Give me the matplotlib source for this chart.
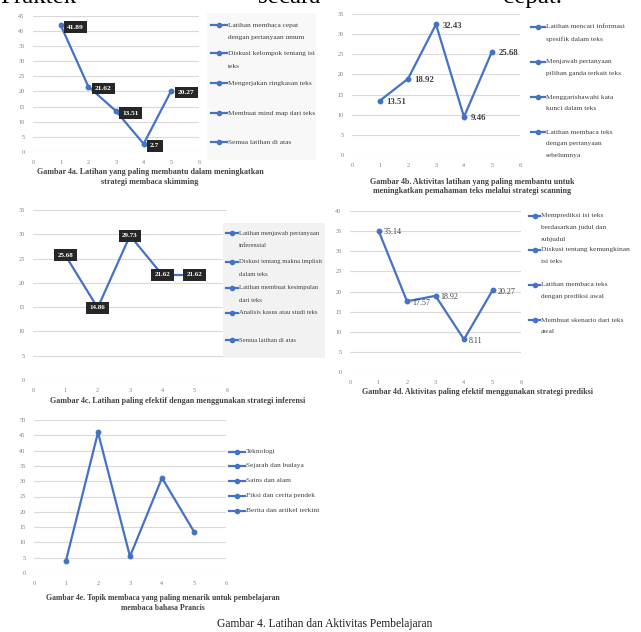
import matplotlib
matplotlib.use("Agg")
import matplotlib.pyplot as plt
from matplotlib.lines import Line2D
from matplotlib.patches import Rectangle

W, H = 641, 632
BLUE = "#4472C4"
GRID = "#D9D9D9"
TICKC = "#7F7F7F"
SERIF = ["Liberation Serif", "DejaVu Serif"]

x_pos = [1, 2, 3, 4, 5]

# ---- data ----
vals_4a = [41.89, 21.62, 13.51, 2.7, 20.27]
labels_4a = ["Latihan membaca cepat\ndengan pertanyaan umum",
             "Diskusi kelompok tentang isi\nteks",
             "Mengerjakan ringkasan teks",
             "Membuat mind map dari teks",
             "Semua latihan di atas"]
title_4a = "Gambar 4a. Latihan yang paling membantu dalam meningkatkan\nstrategi membaca skimming"

vals_4b = [13.51, 18.92, 32.43, 9.46, 25.68]
labels_4b = ["Latihan mencari informasi\nspesifik dalam teks",
             "Menjawab pertanyaan\npilihan ganda terkait teks",
             "Menggarisbawahi kata\nkunci dalam teks",
             "Latihan membaca teks\ndengan pertanyaan\nsebelumnya"]
title_4b = "Gambar 4b. Aktivitas latihan yang paling membantu untuk\nmeningkatkan pemahaman teks melalui strategi scanning"

vals_4c = [25.68, 14.86, 29.73, 21.62, 21.62]
labels_4c = ["Latihan menjawab pertanyaan\ninferensial",
             "Diskusi tentang makna implisit\ndalam teks",
             "Latihan membuat kesimpulan\ndari teks",
             "Analisis kasus atau studi teks",
             "Semua latihan di atas"]
title_4c = "Gambar 4c. Latihan paling efektif dengan menggunakan strategi inferensi"

vals_4d = [35.14, 17.57, 18.92, 8.11, 20.27]
labels_4d = ["Memprediksi isi teks\nberdasarkan judul dan\nsubjudul",
             "Diskusi tentang kemungkinan\nisi teks",
             "Latihan membaca teks\ndengan prediksi awal",
             "Membuat skenario dari teks\nawal"]
title_4d = "Gambar 4d. Aktivitas paling efektif menggunakan strategi prediksi"

vals_4e = [4.05, 45.95, 5.41, 31.08, 13.51]
labels_4e = ["Teknologi", "Sejarah dan budaya", "Sains dan alam",
             "Fiksi dan cerita pendek", "Berita dan artikel terkini"]
title_4e = "Gambar 4e. Topik membaca yang paling menarik untuk pembelajaran\nmembaca bahasa Prancis"

main_title = "Gambar 4. Latihan dan Aktivitas Pembelajaran"
top_words = ["Praktek", "secara", "cepat."]

fig = plt.figure(figsize=(W / 100, H / 100), dpi=100)
fig.patch.set_facecolor("white")


def fx(x):
    return x / W


def fy(y):
    return 1 - y / H


def make_ax(x0, x6, y0, ytop, ymax):
    ax = fig.add_axes([fx(x0), fy(y0), (x6 - x0) / W, (y0 - ytop) / H])
    ax.set_xlim(0, 6)
    ax.set_ylim(0, ymax)
    for s in ax.spines.values():
        s.set_visible(False)
    ax.set_yticks(range(0, ymax + 1, 5))
    ax.set_xticks(range(0, 7))
    ax.yaxis.grid(True, color=GRID, lw=0.8)
    ax.set_axisbelow(True)
    ax.tick_params(length=0, labelsize=4.5, colors=TICKC, pad=6)
    for t in ax.get_xticklabels() + ax.get_yticklabels():
        t.set_family(SERIF)
    ax.patch.set_alpha(0)
    return ax


def plot_line(ax, vals):
    ax.plot(x_pos, vals, color=BLUE, lw=1.6, marker="o", ms=3.2, clip_on=False,
            zorder=3)


def legend(entries, ys, mx0, mx1, dy, fs, box=None):
    if box is not None:
        bx0, by0, bx1, by1, c = box
        fig.patches.append(Rectangle((fx(bx0), fy(by1)), (bx1 - bx0) / W, (by1 - by0) / H,
                                     transform=fig.transFigure, fc=c, ec="none", zorder=0))
    for lab, y in zip(entries, ys):
        fig.add_artist(Line2D([fx(mx0), fx(mx1)], [fy(y), fy(y)], transform=fig.transFigure,
                              color=BLUE, lw=1.6))
        fig.add_artist(Line2D([fx((mx0 + mx1) / 2)], [fy(y)], transform=fig.transFigure,
                              color=BLUE, marker="o", ms=3))
        for i, line in enumerate(lab.split("\n")):
            fig.text(fx(mx1 + 1), fy(y + i * dy), line, fontsize=fs, family=SERIF,
                     va="center", ha="left", color="#404040")


def caption(text, x, y, fs=5.8, ls=1.25):
    fig.text(fx(x), fy(y), text, ha="center", va="top", fontsize=fs, family=SERIF,
             fontweight="bold", color="#404040", linespacing=ls)


PX = 0.72  # px -> pt

# ---- 4a ----
ax = make_ax(33, 199, 152, 15.7, 45)
plot_line(ax, vals_4a)
for x, v in zip(x_pos, vals_4a):
    ax.annotate(f"{v:g}", (x, v), xytext=(6.5 * PX, -2 * PX), textcoords="offset points",
                ha="left", va="center", fontsize=5.3, fontweight="bold", family=SERIF,
                color="white", bbox=dict(boxstyle="square,pad=0.45", fc="#262626", ec="none"),
                zorder=4)
legend(labels_4a, [25, 53, 83, 113, 142], 211, 227, 13, 5.3,
       box=(207, 13, 316, 160, "#F8F8F8"))
caption(title_4a, 150, 168)

# ---- 4b ----
ax = make_ax(352, 520, 155, 14, 35)
plot_line(ax, vals_4b)
for x, v in zip(x_pos, vals_4b):
    ax.annotate(f"{v:g}", (x, v), xytext=(6.5 * PX, -1.5 * PX), textcoords="offset points",
                ha="left", va="center", fontsize=6.3, fontweight="bold", family=SERIF,
                color="#404040", zorder=4)
legend(labels_4b, [27, 62, 97, 132], 531, 545, 12, 5.3)
caption(title_4b, 472, 178)

# ---- 4c ----
ax = make_ax(33, 227, 380, 210, 35)
plot_line(ax, vals_4c)
for x, v in zip(x_pos, vals_4c):
    ax.annotate(f"{v:g}", (x, v), xytext=(0, 0), textcoords="offset points",
                ha="center", va="center", fontsize=5.0, fontweight="bold", family=SERIF,
                color="white", bbox=dict(boxstyle="square,pad=0.5", fc="#262626", ec="none"),
                zorder=4)
legend(labels_4c, [233, 262, 288, 313, 340], 226, 238, 12, 4.8,
       box=(223, 223, 325, 358, "#F2F2F2"))
caption(title_4c, 178, 397)

# ---- 4d ----
ax = make_ax(350, 521, 372, 211, 40)
plot_line(ax, vals_4d)
for x, v in zip(x_pos, vals_4d):
    ax.annotate(f"{v:g}", (x, v), xytext=(5 * PX, -1.5 * PX), textcoords="offset points",
                ha="left", va="center", fontsize=5.8, family=SERIF,
                color="#404040", zorder=4)
legend(labels_4d, [216, 250, 285, 320], 529, 540, 11.5, 5.3)
caption(title_4d, 477, 388)

# ---- 4e ----
ax = make_ax(34, 226, 573, 420, 50)
plot_line(ax, vals_4e)
legend(labels_4e, [452, 466, 481, 496, 511], 229, 245, 12, 5.3)
caption(title_4e, 163, 594, fs=5.6)

# ---- main texts ----
fig.text(fx(325), fy(618), main_title, ha="center", va="top", fontsize=8.3, family=SERIF,
         color="#1a1a1a")
for word, xx in zip(top_words, [0, 258, 503]):
    fig.text(fx(xx), fy(3), word, ha="left", va="baseline", fontsize=18, family=SERIF,
             color="black")

fig.savefig("out.png", dpi=100, facecolor="white")
